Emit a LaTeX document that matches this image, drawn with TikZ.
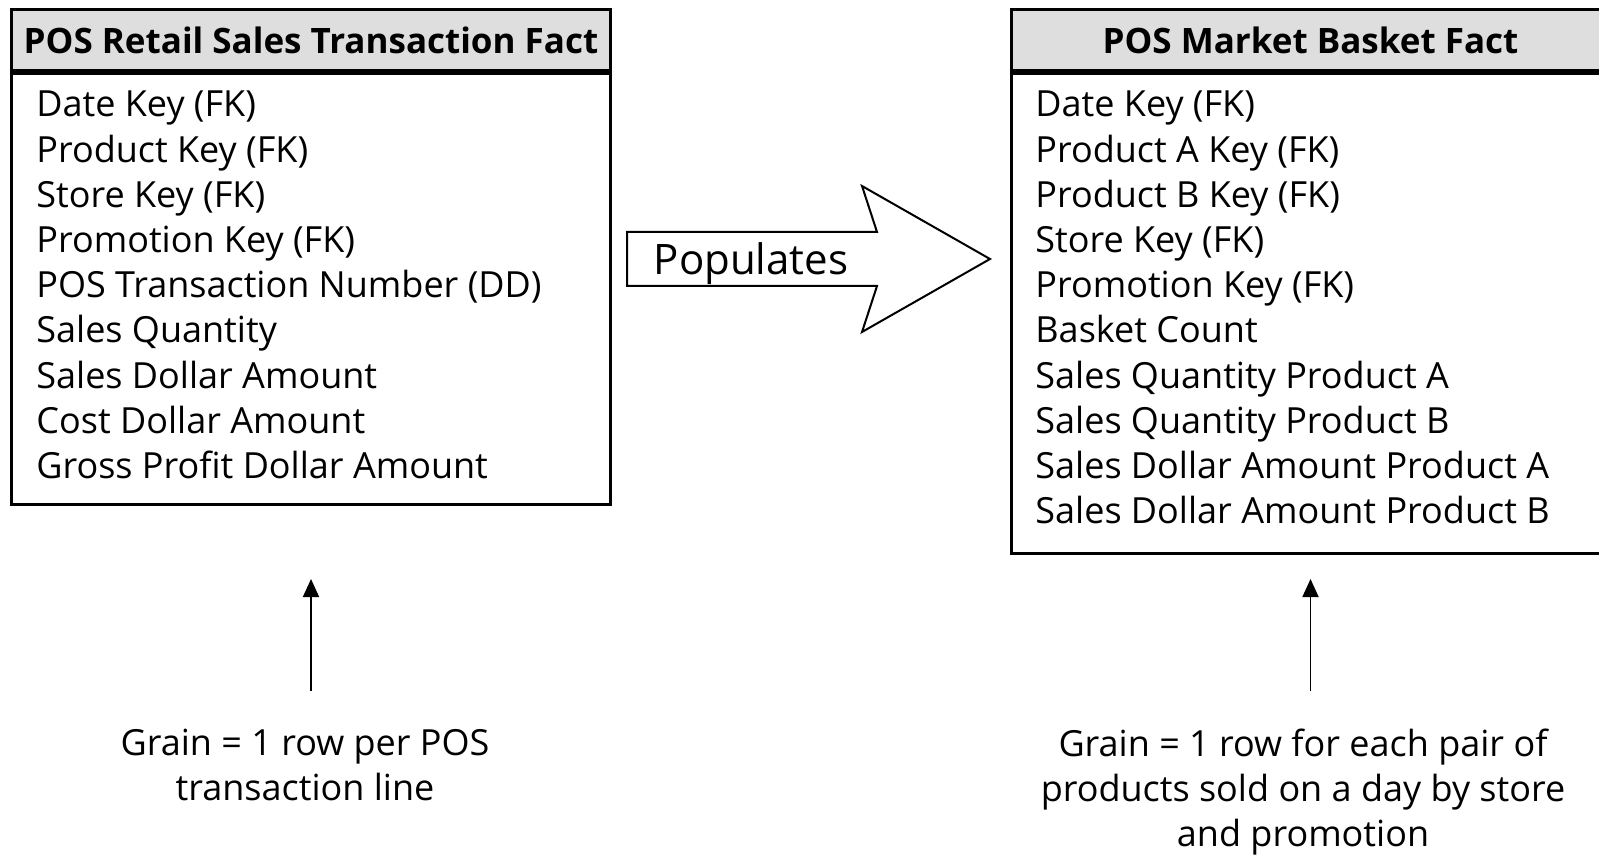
\documentclass[tikz,border=0pt]{standalone}
\usepackage{fontspec}
\setmainfont{Open Sans}
\usetikzlibrary{arrows.meta,positioning}
\definecolor{hdrgray}{RGB}{222,222,222}
\tikzset{
  facthead/.style={draw,line width=1.5pt,fill=hdrgray,anchor=north west,
    minimum height=30.5pt,inner sep=0pt,font=\fontsize{17.5}{20}\selectfont\bfseries},
  factbody/.style={draw,line width=1.5pt,anchor=north,inner sep=0pt},
  field/.style={anchor=base west,inner sep=0pt,font=\fontsize{18}{20}\selectfont},
  grain/.style={align=center,anchor=north,inner sep=0pt,font=\fontsize{18}{22.5}\selectfont},
  uparrow/.style={-{Triangle[width=8pt,length=9pt]},line width=0.9pt}
}
\begin{document}
\begin{tikzpicture}[x=0.5pt,y=-0.5pt]
  \useasboundingbox (0,0) rectangle (1599,855);
  \clip (0,0) rectangle (1599,855);
  % transaction fact table
  \node[facthead,minimum width=299.5pt] (lhead) at (10,8) {POS Retail Sales Transaction Fact};
  \node[factbody,minimum width=299.5pt,minimum height=215.5pt] (lbody) at (lhead.south) {};
  \foreach \t [count=\i from 0] in {Date Key (FK),Product Key (FK),Store Key (FK),
      Promotion Key (FK),POS Transaction Number (DD),Sales Quantity,
      Sales Dollar Amount,Cost Dollar Amount,Gross Profit Dollar Amount}
    \node[field] (lf\i) at (36,117+45.2*\i) {\t};
  % market basket fact table
  \node[facthead,minimum width=299pt] (rhead) at (1010,8) {POS Market Basket Fact};
  \node[factbody,minimum width=299pt,minimum height=240pt] (rbody) at (rhead.south) {};
  \foreach \t [count=\i from 0] in {Date Key (FK),Product A Key (FK),Product B Key (FK),
      Store Key (FK),Promotion Key (FK),Basket Count,Sales Quantity Product A,
      Sales Quantity Product B,Sales Dollar Amount Product A,Sales Dollar Amount Product B}
    \node[field] (rf\i) at (1035,117+45.2*\i) {\t};
  % populates arrow
  \draw[line width=1pt] (627,232) -- (877,232) -- (862,186) -- (990,259)
    -- (862,332) -- (877,286) -- (627,286) -- cycle;
  \node[anchor=base,inner sep=0pt,font=\fontsize{21}{24}\selectfont] (pop) at (751,275) {Populates};
  % grain notes
  \node[grain] (lgrain) at (305,729) {Grain = 1 row per POS\\transaction line};
  \node[grain] (rgrain) at (1303,729) {Grain = 1 row for each pair of\\products sold on a day by store\\and promotion};
  \draw[uparrow,shorten <=19pt,shorten >=36.5pt] (lbody.south |- lgrain.north) -- (lbody.south);
  \draw[uparrow,shorten <=19pt,shorten >=12pt] (rbody.south |- rgrain.north) -- (rbody.south);
\end{tikzpicture}
\end{document}
